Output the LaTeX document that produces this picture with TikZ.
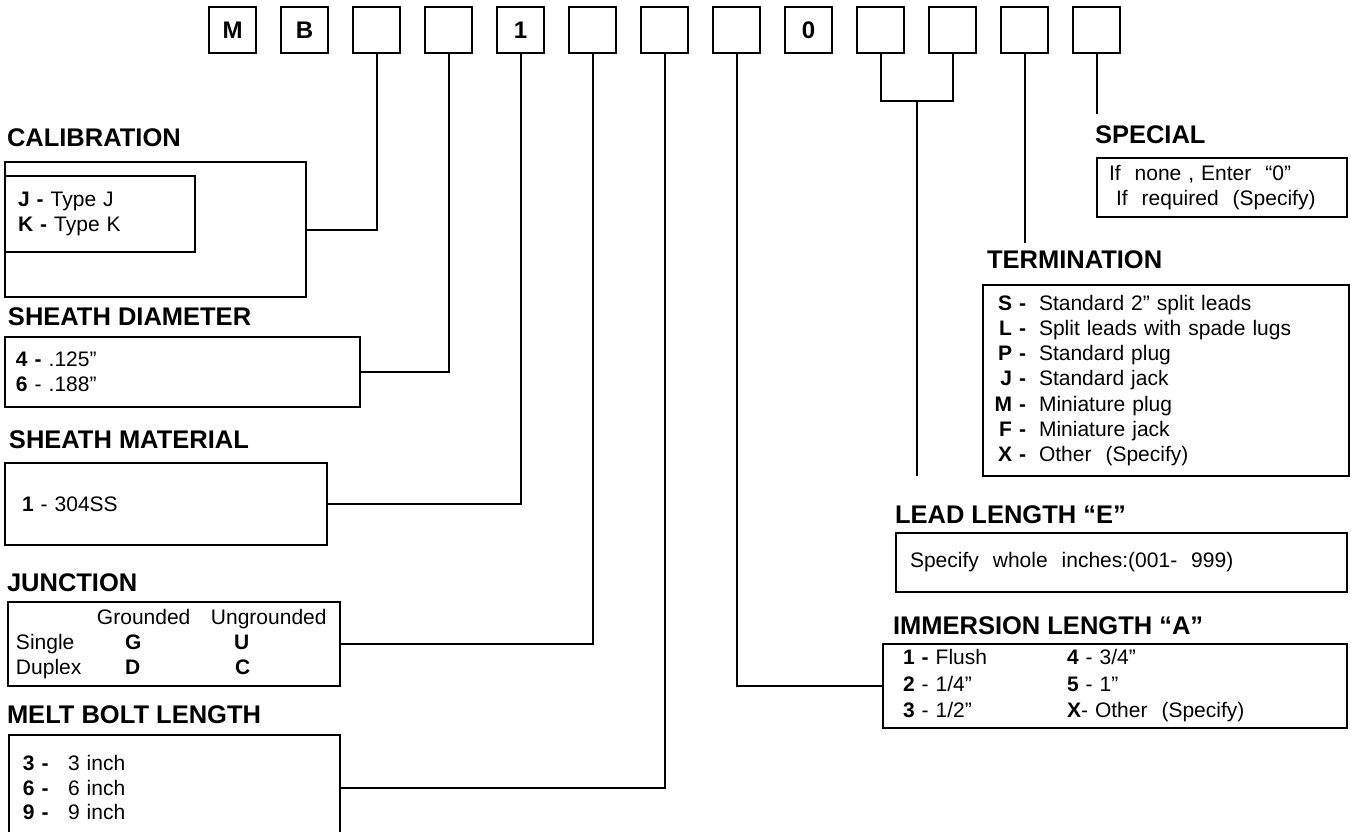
\documentclass[tikz,border=0pt]{standalone}
\usepackage{fontspec}
\setmainfont{Liberation Sans}
\usetikzlibrary{positioning}
\newcommand{\termkey}[1]{\makebox[36pt][r]{\textbf{#1 -}}\hspace{13pt}}

\begin{document}
\begin{tikzpicture}[
x=1pt,
y=-1pt,
every node/.style={font=\fontsize{21}{25.3}\selectfont,text=black,outer sep=0pt},
digit/.style={draw,line width=2pt,minimum width=47pt,minimum height=46pt,inner sep=0pt,font=\fontsize{24}{24}\selectfont\bfseries},
head/.style={anchor=west,inner sep=0pt,font=\fontsize{25.5}{25.5}\selectfont\bfseries},
panel/.style={draw,line width=1.8pt,inner ysep=0pt,align=left},
wire/.style={line width=2pt,line cap=rect}
]

\path[use as bounding box] (0,0) rectangle (1351,832);
\clip (0,0) rectangle (1351,832);

% code boxes
\foreach \lab [count=\i] in {M,B,{},{},1,{},{},{},0,{},{},{},{}}
  \node[digit] (d\i) at ({160.5+72*\i},30) {\lab};

% left column
\node[head] (calhead) at (7,138) {CALIBRATION};
\node[panel,minimum width=301pt,minimum height=135pt,inner sep=0pt] (calouter) at (155.5,229.5) {};
\node[panel,text width=164pt,inner xsep=13pt,minimum height=76pt] (calinner) at (100,214) {\textbf{J -} Type J\\\textbf{K -} Type K};

\node[head] (diamhead) at (8,317) {SHEATH DIAMETER};
\node[panel,text width=333pt,inner xsep=11pt,minimum height=70pt] (diam) at (182.5,372) {\textbf{4 -} .125”\\\textbf{6} - .188”};

\node[head] (matlhead) at (9,440) {SHEATH MATERIAL};
\node[panel,text width=288pt,inner xsep=17pt,minimum height=82pt] (matl) at (166,504) {\textbf{1} - 304SS};

\node[head] (junchead) at (7,583) {JUNCTION};
\node[panel,text width=316pt,inner xsep=8pt,minimum height=84pt] (junc) at (174,644) {\hspace*{81pt}\makebox[114pt][l]{Grounded}Ungrounded\\\makebox[109pt][l]{Single}\makebox[109pt][l]{\textbf{G}}\textbf{U}\\\makebox[109pt][l]{Duplex}\makebox[110pt][l]{\textbf{D}}\textbf{C}};

\node[head] (melthead) at (7,715) {MELT BOLT LENGTH};
\node[panel,text width=303pt,inner xsep=14pt,minimum height=105pt,font=\fontsize{21}{24.5}\selectfont] (melt) at (174.5,787.5) {\makebox[45pt][l]{\textbf{3 -}}3 inch\\\makebox[45pt][l]{\textbf{6 -}}6 inch\\\makebox[45pt][l]{\textbf{9 -}}9 inch};

% right column
\node[head] (spechead) at (1095,135) {SPECIAL};
\node[panel,text width=226pt,inner xsep=12pt,minimum height=59pt] (special) at (1222,187.5) {If\ \ none , Enter\ \ “0”\\\ If\ \ required\ \ (Specify)};

\node[head] (termhead) at (987,260) {TERMINATION};
\node[panel,text width=352pt,inner xsep=7pt,minimum height=191pt] (term) at (1166,380.5) {\termkey{S}Standard 2” split leads\\\termkey{L}Split leads with spade lugs\\\termkey{P}Standard plug\\\termkey{J}Standard jack\\\termkey{M}Miniature plug\\\termkey{F}Miniature jack\\\termkey{X}Other\ \ (Specify)};

\node[head] (leadhead) at (895,515) {LEAD LENGTH “E”};
\node[panel,text width=423pt,inner xsep=14pt,minimum height=59pt] (leadbox) at (1121.5,562.5) {Specify\ \ whole\ \ inches:(001-\ \ 999)\\[4pt]};

\node[head] (immhead) at (893,626) {IMMERSION LENGTH “A”};
\node[panel,text width=424pt,inner xsep=20pt,minimum height=84pt,font=\fontsize{21}{26.5}\selectfont] (immer) at (1115,686) {\makebox[164pt][l]{\textbf{1 -} Flush}\textbf{4} - 3/4”\\\makebox[164pt][l]{\textbf{2} - 1/4”}\textbf{5} - 1”\\\makebox[164pt][l]{\textbf{3} - 1/2”}\textbf{X}- Other\ \ (Specify)};

% free ends
\coordinate (brk) at (916.5,101);
\coordinate (leadtop) at (916.5,475);
\coordinate (termtop) at (1024.5,242);
\coordinate (spectop) at (1096.5,113);

% connectors
\draw[wire] (d3.south) |- (calouter.east);
\draw[wire] (d4.south) |- (diam.east);
\draw[wire] (d5.south) |- (matl.east);
\draw[wire] (d6.south) |- (junc.east);
\draw[wire] (d7.south) |- (melt.east);
\draw[wire] (d8.south) |- (immer.west);
\draw[wire] (d10.south) |- (brk) -| (d11.south);
\draw[wire] (brk) -- (leadtop);
\draw[wire] (d12.south) -- (d12.south |- termtop);
\draw[wire] (d13.south) -- (d13.south |- spectop);

\end{tikzpicture}
\end{document}
